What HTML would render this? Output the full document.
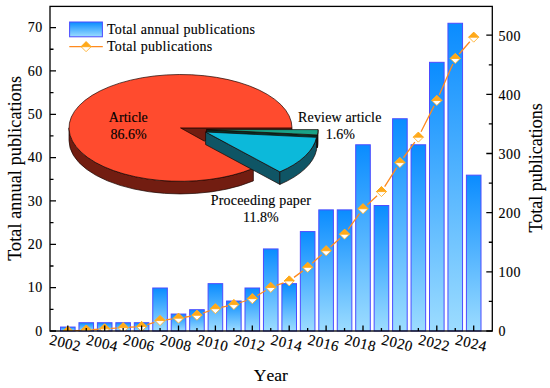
<!DOCTYPE html>
<html><head><meta charset="utf-8"><title>Publications chart</title>
<style>html,body{margin:0;padding:0;background:#fff;overflow:hidden}body{width:550px;height:388px}</style></head>
<body>
<svg width="550" height="388" viewBox="0 0 550 388" style="display:block;font-family:'Liberation Serif',serif"><style>text{stroke:#000;stroke-width:0.13px;fill:#000}</style>
<defs>
<linearGradient id="bg" x1="0" y1="0" x2="0" y2="1"><stop offset="0" stop-color="#0a8cff"/><stop offset="1" stop-color="#9cdcff"/></linearGradient>
</defs>
<rect width="550" height="388" fill="#fff"/>
<rect x="60.50" y="327.06" width="14.60" height="3.94" fill="url(#bg)" stroke="#4c4cff" stroke-width="1"/>
<rect x="78.95" y="322.72" width="14.60" height="8.28" fill="url(#bg)" stroke="#4c4cff" stroke-width="1"/>
<rect x="97.40" y="322.72" width="14.60" height="8.28" fill="url(#bg)" stroke="#4c4cff" stroke-width="1"/>
<rect x="115.85" y="322.72" width="14.60" height="8.28" fill="url(#bg)" stroke="#4c4cff" stroke-width="1"/>
<rect x="134.30" y="322.72" width="14.60" height="8.28" fill="url(#bg)" stroke="#4c4cff" stroke-width="1"/>
<rect x="152.75" y="288.00" width="14.60" height="43.00" fill="url(#bg)" stroke="#4c4cff" stroke-width="1"/>
<rect x="171.20" y="314.04" width="14.60" height="16.96" fill="url(#bg)" stroke="#4c4cff" stroke-width="1"/>
<rect x="189.65" y="309.70" width="14.60" height="21.30" fill="url(#bg)" stroke="#4c4cff" stroke-width="1"/>
<rect x="208.10" y="283.66" width="14.60" height="47.34" fill="url(#bg)" stroke="#4c4cff" stroke-width="1"/>
<rect x="226.55" y="301.02" width="14.60" height="29.98" fill="url(#bg)" stroke="#4c4cff" stroke-width="1"/>
<rect x="245.00" y="288.00" width="14.60" height="43.00" fill="url(#bg)" stroke="#4c4cff" stroke-width="1"/>
<rect x="263.45" y="248.94" width="14.60" height="82.06" fill="url(#bg)" stroke="#4c4cff" stroke-width="1"/>
<rect x="281.90" y="283.66" width="14.60" height="47.34" fill="url(#bg)" stroke="#4c4cff" stroke-width="1"/>
<rect x="300.35" y="231.58" width="14.60" height="99.42" fill="url(#bg)" stroke="#4c4cff" stroke-width="1"/>
<rect x="318.80" y="209.88" width="14.60" height="121.12" fill="url(#bg)" stroke="#4c4cff" stroke-width="1"/>
<rect x="337.25" y="209.88" width="14.60" height="121.12" fill="url(#bg)" stroke="#4c4cff" stroke-width="1"/>
<rect x="355.70" y="144.78" width="14.60" height="186.22" fill="url(#bg)" stroke="#4c4cff" stroke-width="1"/>
<rect x="374.15" y="205.54" width="14.60" height="125.46" fill="url(#bg)" stroke="#4c4cff" stroke-width="1"/>
<rect x="392.60" y="118.74" width="14.60" height="212.26" fill="url(#bg)" stroke="#4c4cff" stroke-width="1"/>
<rect x="411.05" y="144.78" width="14.60" height="186.22" fill="url(#bg)" stroke="#4c4cff" stroke-width="1"/>
<rect x="429.50" y="62.32" width="14.60" height="268.68" fill="url(#bg)" stroke="#4c4cff" stroke-width="1"/>
<rect x="447.95" y="23.27" width="14.60" height="307.73" fill="url(#bg)" stroke="#4c4cff" stroke-width="1"/>
<rect x="466.40" y="175.16" width="14.60" height="155.84" fill="url(#bg)" stroke="#4c4cff" stroke-width="1"/>
<clipPath id="cp"><rect x="50.0" y="6.4" width="442.3" height="324.6"/></clipPath><g clip-path="url(#cp)">
<path d="M73.79 330.82L80.26 330.41 M92.24 329.64L98.71 329.23 M110.69 328.46L117.16 328.04 M129.14 327.27L135.61 326.86 M147.31 324.64L154.34 322.39 M166.00 319.80L172.55 318.96 M184.42 317.24L191.03 316.19 M202.61 313.24L209.74 310.72 M221.25 307.41L228.00 305.90 M239.56 302.75L246.59 300.50 M257.42 295.55L265.63 290.55 M276.41 285.43L283.54 282.92 M294.03 277.36L302.82 270.88 M312.11 263.31L321.64 254.76 M330.56 246.74L340.09 238.19 M348.07 229.33L359.48 213.60 M367.39 204.66L377.06 195.68 M384.67 186.53L396.68 167.66 M403.42 157.75L414.83 142.02 M421.05 131.80L434.10 105.84 M439.21 94.99L452.84 63.97 M459.18 53.95L469.77 41.72" fill="none" stroke="#ff8a1f" stroke-width="1.3"/>
<path d="M62.80 331.21L67.80 326.21L72.80 331.21L67.80 336.21Z" fill="#fff" stroke="#ffb02e" stroke-width="0.9"/>
<path d="M62.80 331.21L67.80 326.21L72.80 331.21Z" fill="#ffa91a" stroke="#ffa91a" stroke-width="0.9" stroke-linejoin="miter"/>
<path d="M81.25 330.03L86.25 325.03L91.25 330.03L86.25 335.03Z" fill="#fff" stroke="#ffb02e" stroke-width="0.9"/>
<path d="M81.25 330.03L86.25 325.03L91.25 330.03Z" fill="#ffa91a" stroke="#ffa91a" stroke-width="0.9" stroke-linejoin="miter"/>
<path d="M99.70 328.84L104.70 323.84L109.70 328.84L104.70 333.84Z" fill="#fff" stroke="#ffb02e" stroke-width="0.9"/>
<path d="M99.70 328.84L104.70 323.84L109.70 328.84Z" fill="#ffa91a" stroke="#ffa91a" stroke-width="0.9" stroke-linejoin="miter"/>
<path d="M118.15 327.66L123.15 322.66L128.15 327.66L123.15 332.66Z" fill="#fff" stroke="#ffb02e" stroke-width="0.9"/>
<path d="M118.15 327.66L123.15 322.66L128.15 327.66Z" fill="#ffa91a" stroke="#ffa91a" stroke-width="0.9" stroke-linejoin="miter"/>
<path d="M136.60 326.48L141.60 321.48L146.60 326.48L141.60 331.48Z" fill="#fff" stroke="#ffb02e" stroke-width="0.9"/>
<path d="M136.60 326.48L141.60 321.48L146.60 326.48Z" fill="#ffa91a" stroke="#ffa91a" stroke-width="0.9" stroke-linejoin="miter"/>
<path d="M155.05 320.56L160.05 315.56L165.05 320.56L160.05 325.56Z" fill="#fff" stroke="#ffb02e" stroke-width="0.9"/>
<path d="M155.05 320.56L160.05 315.56L165.05 320.56Z" fill="#ffa91a" stroke="#ffa91a" stroke-width="0.9" stroke-linejoin="miter"/>
<path d="M173.50 318.19L178.50 313.19L183.50 318.19L178.50 323.19Z" fill="#fff" stroke="#ffb02e" stroke-width="0.9"/>
<path d="M173.50 318.19L178.50 313.19L183.50 318.19Z" fill="#ffa91a" stroke="#ffa91a" stroke-width="0.9" stroke-linejoin="miter"/>
<path d="M191.95 315.24L196.95 310.24L201.95 315.24L196.95 320.24Z" fill="#fff" stroke="#ffb02e" stroke-width="0.9"/>
<path d="M191.95 315.24L196.95 310.24L201.95 315.24Z" fill="#ffa91a" stroke="#ffa91a" stroke-width="0.9" stroke-linejoin="miter"/>
<path d="M210.40 308.73L215.40 303.73L220.40 308.73L215.40 313.73Z" fill="#fff" stroke="#ffb02e" stroke-width="0.9"/>
<path d="M210.40 308.73L215.40 303.73L220.40 308.73Z" fill="#ffa91a" stroke="#ffa91a" stroke-width="0.9" stroke-linejoin="miter"/>
<path d="M228.85 304.59L233.85 299.59L238.85 304.59L233.85 309.59Z" fill="#fff" stroke="#ffb02e" stroke-width="0.9"/>
<path d="M228.85 304.59L233.85 299.59L238.85 304.59Z" fill="#ffa91a" stroke="#ffa91a" stroke-width="0.9" stroke-linejoin="miter"/>
<path d="M247.30 298.67L252.30 293.67L257.30 298.67L252.30 303.67Z" fill="#fff" stroke="#ffb02e" stroke-width="0.9"/>
<path d="M247.30 298.67L252.30 293.67L257.30 298.67Z" fill="#ffa91a" stroke="#ffa91a" stroke-width="0.9" stroke-linejoin="miter"/>
<path d="M265.75 287.43L270.75 282.43L275.75 287.43L270.75 292.43Z" fill="#fff" stroke="#ffb02e" stroke-width="0.9"/>
<path d="M265.75 287.43L270.75 282.43L275.75 287.43Z" fill="#ffa91a" stroke="#ffa91a" stroke-width="0.9" stroke-linejoin="miter"/>
<path d="M284.20 280.92L289.20 275.92L294.20 280.92L289.20 285.92Z" fill="#fff" stroke="#ffb02e" stroke-width="0.9"/>
<path d="M284.20 280.92L289.20 275.92L294.20 280.92Z" fill="#ffa91a" stroke="#ffa91a" stroke-width="0.9" stroke-linejoin="miter"/>
<path d="M302.65 267.32L307.65 262.32L312.65 267.32L307.65 272.32Z" fill="#fff" stroke="#ffb02e" stroke-width="0.9"/>
<path d="M302.65 267.32L307.65 262.32L312.65 267.32Z" fill="#ffa91a" stroke="#ffa91a" stroke-width="0.9" stroke-linejoin="miter"/>
<path d="M321.10 250.75L326.10 245.75L331.10 250.75L326.10 255.75Z" fill="#fff" stroke="#ffb02e" stroke-width="0.9"/>
<path d="M321.10 250.75L326.10 245.75L331.10 250.75Z" fill="#ffa91a" stroke="#ffa91a" stroke-width="0.9" stroke-linejoin="miter"/>
<path d="M339.55 234.19L344.55 229.19L349.55 234.19L344.55 239.19Z" fill="#fff" stroke="#ffb02e" stroke-width="0.9"/>
<path d="M339.55 234.19L344.55 229.19L349.55 234.19Z" fill="#ffa91a" stroke="#ffa91a" stroke-width="0.9" stroke-linejoin="miter"/>
<path d="M358.00 208.75L363.00 203.75L368.00 208.75L363.00 213.75Z" fill="#fff" stroke="#ffb02e" stroke-width="0.9"/>
<path d="M358.00 208.75L363.00 203.75L368.00 208.75Z" fill="#ffa91a" stroke="#ffa91a" stroke-width="0.9" stroke-linejoin="miter"/>
<path d="M376.45 191.59L381.45 186.59L386.45 191.59L381.45 196.59Z" fill="#fff" stroke="#ffb02e" stroke-width="0.9"/>
<path d="M376.45 191.59L381.45 186.59L386.45 191.59Z" fill="#ffa91a" stroke="#ffa91a" stroke-width="0.9" stroke-linejoin="miter"/>
<path d="M394.90 162.60L399.90 157.60L404.90 162.60L399.90 167.60Z" fill="#fff" stroke="#ffb02e" stroke-width="0.9"/>
<path d="M394.90 162.60L399.90 157.60L404.90 162.60Z" fill="#ffa91a" stroke="#ffa91a" stroke-width="0.9" stroke-linejoin="miter"/>
<path d="M413.35 137.16L418.35 132.16L423.35 137.16L418.35 142.16Z" fill="#fff" stroke="#ffb02e" stroke-width="0.9"/>
<path d="M413.35 137.16L418.35 132.16L423.35 137.16Z" fill="#ffa91a" stroke="#ffa91a" stroke-width="0.9" stroke-linejoin="miter"/>
<path d="M431.80 100.48L436.80 95.48L441.80 100.48L436.80 105.48Z" fill="#fff" stroke="#ffb02e" stroke-width="0.9"/>
<path d="M431.80 100.48L436.80 95.48L441.80 100.48Z" fill="#ffa91a" stroke="#ffa91a" stroke-width="0.9" stroke-linejoin="miter"/>
<path d="M450.25 58.48L455.25 53.48L460.25 58.48L455.25 63.48Z" fill="#fff" stroke="#ffb02e" stroke-width="0.9"/>
<path d="M450.25 58.48L455.25 53.48L460.25 58.48Z" fill="#ffa91a" stroke="#ffa91a" stroke-width="0.9" stroke-linejoin="miter"/>
<path d="M468.70 37.18L473.70 32.18L478.70 37.18L473.70 42.18Z" fill="#fff" stroke="#ffb02e" stroke-width="0.9"/>
<path d="M468.70 37.18L473.70 32.18L478.70 37.18Z" fill="#ffa91a" stroke="#ffa91a" stroke-width="0.9" stroke-linejoin="miter"/>
</g>
<path d="M50.0 331.00h6 M50.0 287.66h6 M50.0 244.31h6 M50.0 200.97h6 M50.0 157.63h6 M50.0 114.29h6 M50.0 70.94h6 M50.0 27.60h6 M50.0 309.33h3.5 M50.0 265.99h3.5 M50.0 222.64h3.5 M50.0 179.30h3.5 M50.0 135.96h3.5 M50.0 92.61h3.5 M50.0 49.27h3.5 M492.3 331.00h-6 M492.3 271.84h-6 M492.3 212.68h-6 M492.3 153.52h-6 M492.3 94.36h-6 M492.3 35.20h-6 M492.3 301.42h-3.5 M492.3 242.26h-3.5 M492.3 183.10h-3.5 M492.3 123.94h-3.5 M492.3 64.78h-3.5 M67.80 331.0v-5.5 M86.25 331.0v-3.1 M104.70 331.0v-5.5 M123.15 331.0v-3.1 M141.60 331.0v-5.5 M160.05 331.0v-3.1 M178.50 331.0v-5.5 M196.95 331.0v-3.1 M215.40 331.0v-5.5 M233.85 331.0v-3.1 M252.30 331.0v-5.5 M270.75 331.0v-3.1 M289.20 331.0v-5.5 M307.65 331.0v-3.1 M326.10 331.0v-5.5 M344.55 331.0v-3.1 M363.00 331.0v-5.5 M381.45 331.0v-3.1 M399.90 331.0v-5.5 M418.35 331.0v-3.1 M436.80 331.0v-5.5 M455.25 331.0v-3.1 M473.70 331.0v-5.5" stroke="#000" stroke-width="1.3" fill="none"/>
<rect x="50.0" y="6.4" width="442.3" height="324.6" fill="none" stroke="#000" stroke-width="1.3"/>
<text x="42.7" y="335.80" font-size="14" letter-spacing="0.5" text-anchor="end">0</text>
<text x="42.7" y="292.46" font-size="14" letter-spacing="0.5" text-anchor="end">10</text>
<text x="42.7" y="249.11" font-size="14" letter-spacing="0.5" text-anchor="end">20</text>
<text x="42.7" y="205.77" font-size="14" letter-spacing="0.5" text-anchor="end">30</text>
<text x="42.7" y="162.43" font-size="14" letter-spacing="0.5" text-anchor="end">40</text>
<text x="42.7" y="119.09" font-size="14" letter-spacing="0.5" text-anchor="end">50</text>
<text x="42.7" y="75.74" font-size="14" letter-spacing="0.5" text-anchor="end">60</text>
<text x="42.7" y="32.40" font-size="14" letter-spacing="0.5" text-anchor="end">70</text>
<text x="498.4" y="336.40" font-size="14" letter-spacing="0.55">0</text>
<text x="498.4" y="277.24" font-size="14" letter-spacing="0.55">100</text>
<text x="498.4" y="218.08" font-size="14" letter-spacing="0.55">200</text>
<text x="498.4" y="158.92" font-size="14" letter-spacing="0.55">300</text>
<text x="498.4" y="99.76" font-size="14" letter-spacing="0.55">400</text>
<text x="498.4" y="40.60" font-size="14" letter-spacing="0.55">500</text>
<text transform="translate(65.20 343.20) rotate(13.5)" x="0" y="4.8" font-size="15" letter-spacing="0.4" text-anchor="middle">2002</text>
<text transform="translate(102.10 343.20) rotate(13.5)" x="0" y="4.8" font-size="15" letter-spacing="0.4" text-anchor="middle">2004</text>
<text transform="translate(139.00 343.20) rotate(13.5)" x="0" y="4.8" font-size="15" letter-spacing="0.4" text-anchor="middle">2006</text>
<text transform="translate(175.90 343.20) rotate(13.5)" x="0" y="4.8" font-size="15" letter-spacing="0.4" text-anchor="middle">2008</text>
<text transform="translate(212.80 343.20) rotate(13.5)" x="0" y="4.8" font-size="15" letter-spacing="0.4" text-anchor="middle">2010</text>
<text transform="translate(249.70 343.20) rotate(13.5)" x="0" y="4.8" font-size="15" letter-spacing="0.4" text-anchor="middle">2012</text>
<text transform="translate(286.60 343.20) rotate(13.5)" x="0" y="4.8" font-size="15" letter-spacing="0.4" text-anchor="middle">2014</text>
<text transform="translate(323.50 343.20) rotate(13.5)" x="0" y="4.8" font-size="15" letter-spacing="0.4" text-anchor="middle">2016</text>
<text transform="translate(360.40 343.20) rotate(13.5)" x="0" y="4.8" font-size="15" letter-spacing="0.4" text-anchor="middle">2018</text>
<text transform="translate(397.30 343.20) rotate(13.5)" x="0" y="4.8" font-size="15" letter-spacing="0.4" text-anchor="middle">2020</text>
<text transform="translate(434.20 343.20) rotate(13.5)" x="0" y="4.8" font-size="15" letter-spacing="0.4" text-anchor="middle">2022</text>
<text transform="translate(471.10 343.20) rotate(13.5)" x="0" y="4.8" font-size="15" letter-spacing="0.4" text-anchor="middle">2024</text>
<text transform="translate(21.2 168.3) rotate(-90)" font-size="18" letter-spacing="0.13" text-anchor="middle">Total annual publications</text>
<text transform="translate(541.5 167.8) rotate(-90)" font-size="18" text-anchor="middle">Total publications</text>
<text x="270.8" y="381" font-size="17.5" style="font-kerning:none" text-anchor="middle">Year</text>
<rect x="69.6" y="22" width="32.8" height="14.8" fill="url(#bg)" stroke="#4c4cff" stroke-width="1"/>
<path d="M69.3 46.7H102.8" stroke="#ff8a1f" stroke-width="1.3"/>
<path d="M81.10 46.70L86.10 41.70L91.10 46.70L86.10 51.70Z" fill="#fff" stroke="#ffb02e" stroke-width="0.9"/>
<path d="M81.10 46.70L86.10 41.70L91.10 46.70Z" fill="#ffa91a" stroke="#ffa91a" stroke-width="0.9"/>
<text x="107" y="33.6" font-size="14" letter-spacing="0.28">Total annual publications</text>
<text x="107" y="51" font-size="14" letter-spacing="0.28">Total publications</text>
<path d="M180.50 127.90L292.00 127.90L292.00 140.50L180.50 140.50Z" fill="#721d11" stroke="#1a0500" stroke-width="0.7" stroke-linejoin="round"/>
<path d="M253.36 168.32A111.5 53.4 0 0 1 69.00 127.90L69.00 140.50A111.5 53.4 0 0 0 253.36 180.92Z" fill="#721d11" stroke="#1a0500" stroke-width="0.7" stroke-linejoin="round"/>
<path d="M180.50 127.90L253.36 168.32A111.5 53.4 0 1 1 292.00 127.90Z" fill="#ff4b2e" stroke="#1a0500" stroke-width="0.7" stroke-linejoin="round"/>
<path d="M206.50 129.60L317.44 134.96L317.44 147.56L206.50 142.20Z" fill="#072e26" stroke="#1a0500" stroke-width="0.7" stroke-linejoin="round"/>
<path d="M318.00 129.60A111.5 53.4 0 0 1 317.44 134.96L317.44 147.56A111.5 53.4 0 0 0 318.00 142.20Z" fill="#072e26" stroke="#1a0500" stroke-width="0.7" stroke-linejoin="round"/>
<path d="M206.50 129.60L318.00 129.60A111.5 53.4 0 0 1 317.44 134.96Z" fill="#1aa287" stroke="#1a0500" stroke-width="0.7" stroke-linejoin="round"/>
<path d="M205.60 132.00L279.86 171.83L279.86 184.43L205.60 144.60Z" fill="#0f5565" stroke="#1a0500" stroke-width="0.7" stroke-linejoin="round"/>
<path d="M316.54 137.36A111.5 53.4 0 0 1 279.86 171.83L279.86 184.43A111.5 53.4 0 0 0 316.54 149.96Z" fill="#0f5565" stroke="#1a0500" stroke-width="0.7" stroke-linejoin="round"/>
<path d="M205.60 132.00L316.54 137.36A111.5 53.4 0 0 1 279.86 171.83Z" fill="#0cb9da" stroke="#1a0500" stroke-width="0.7" stroke-linejoin="round"/>
<text x="128.3" y="121.6" font-size="14" text-anchor="middle">Article</text>
<text x="128.5" y="138.7" font-size="14" text-anchor="middle">86.6%</text>
<text x="339.8" y="121.6" font-size="14" letter-spacing="0.16" text-anchor="middle">Review article</text>
<text x="340.3" y="139.4" font-size="14" text-anchor="middle">1.6%</text>
<text x="261" y="204.8" font-size="14" letter-spacing="0.18" text-anchor="middle">Proceeding paper</text>
<text x="260.8" y="222.4" font-size="14" text-anchor="middle">11.8%</text>
</svg>
</body></html>
